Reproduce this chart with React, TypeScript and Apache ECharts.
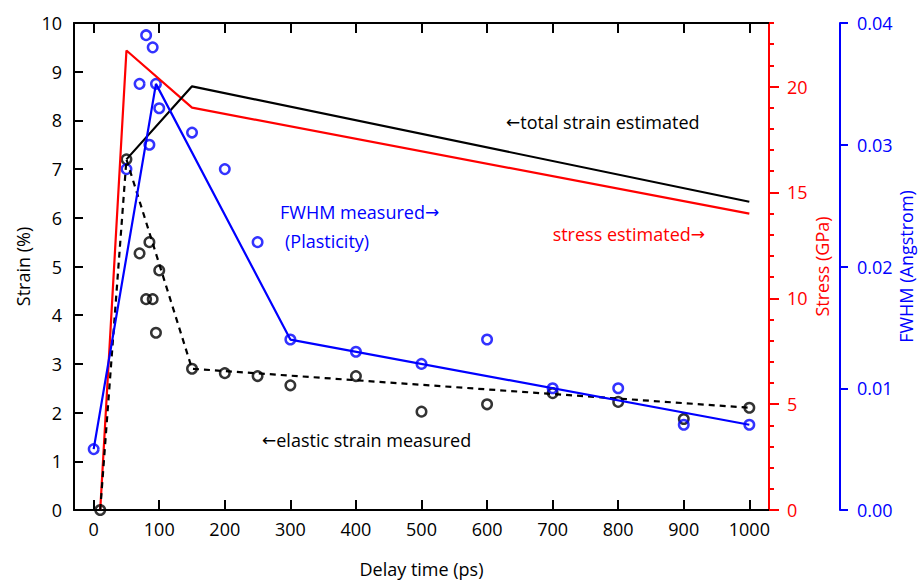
import React, { useEffect, useRef } from "react";
import * as echarts from "echarts";

// ---- data ----
const xTickValues = [0, 100, 200, 300, 400, 500, 600, 700, 800, 900, 1000];
const stressLabelValues = [0, 5, 10, 15, 20];
const stressMinorValues = [0, 1, 2, 3, 4, 5, 6, 7, 8, 9, 10, 11, 12, 13, 14, 15, 16, 17, 18, 19, 20, 21, 22, 23];

// elastic strain measured (%)
const elasticX = [10, 50, 70, 85, 100, 80, 90, 95, 150, 200, 250, 300, 400, 500, 600, 700, 800, 900, 1000];
const elasticY = [0, 7.2, 5.27, 5.5, 4.92, 4.33, 4.33, 3.64, 2.9, 2.81, 2.75, 2.56, 2.75, 2.02, 2.17, 2.4, 2.22, 1.87, 2.1];

// elastic strain fit (dashed)
const elasticFitX = [10, 50, 150, 1000];
const elasticFitY = [0, 7.2, 2.9, 2.1];

// total strain estimated (%)
const totalX = [50, 150, 1000];
const totalY = [7.2, 8.7, 6.33];

// stress estimated (GPa)
const stressX = [10, 50, 150, 1000];
const stressY = [0, 21.7, 19, 14];

// FWHM measured (Angstrom)
const fwhmX = [0, 50, 70, 80, 90, 95, 100, 85, 150, 200, 250, 300, 400, 500, 600, 700, 800, 900, 1000];
const fwhmY = [0.005, 0.028, 0.035, 0.039, 0.038, 0.035, 0.033, 0.03, 0.031, 0.028, 0.022, 0.014, 0.013, 0.012, 0.014, 0.01, 0.01, 0.007, 0.007];

// FWHM fit line
const fwhmFitX = [0, 95, 300, 1000];
const fwhmFitY = [0.005, 0.035, 0.014, 0.007];

const zip = (xs: number[], ys: number[]) => xs.map((x, i) => [x, ys[i]]);

const FONT = '"Open Sans", "Noto Sans", sans-serif';
const BLUE = "#0000ff";
const RED = "#ff0000";

export default function App() {
  const ref = useRef<HTMLDivElement>(null);
  useEffect(() => {
    if (!ref.current) return;
    const chart = echarts.init(ref.current, undefined, { renderer: "svg" });
    const label = (color: string, margin: number) => ({
      color,
      fontFamily: FONT,
      fontSize: 18,
      margin,
    });
    const arrowText = (color: string) => ({
      a: { fontFamily: '"DejaVu Sans"', fontSize: 17, fill: color },
      t: { fontFamily: FONT, fontSize: 18, fill: color },
    });
    const gridRect = { left: 74, right: 149, top: 23, bottom: 74, containLabel: false, outerBoundsMode: "none" };
    chart.setOption({
      animation: false,
      backgroundColor: "#fff",
      grid: [{ ...gridRect }, { ...gridRect }],
      xAxis: [
        {
          type: "value",
          gridIndex: 0,
          min: -30,
          max: 1030,
          position: "bottom",
          name: "Delay time (ps)",
          nameLocation: "middle",
          nameGap: 50,
          nameMoveOverlap: false,
          nameTextStyle: { color: "#000", fontFamily: FONT, fontSize: 18 },
          axisLine: { onZero: false, lineStyle: { color: "#000", width: 2 } },
          axisTick: { inside: true, length: 10, customValues: xTickValues, lineStyle: { color: "#000", width: 2 } },
          axisLabel: { ...label("#000", 10), customValues: xTickValues, formatter: (v: number) => String(v) },
          splitLine: { show: false },
        },
        {
          type: "value",
          gridIndex: 0,
          min: -30,
          max: 1030,
          position: "top",
          axisLine: { onZero: false, lineStyle: { color: "#000", width: 2 } },
          axisTick: { inside: true, length: 10, customValues: xTickValues, lineStyle: { color: "#000", width: 2 } },
          axisLabel: { show: false },
          splitLine: { show: false },
        },
        {
          type: "value",
          gridIndex: 1,
          min: -30,
          max: 1030,
          show: false,
        },
      ],
      yAxis: [
        {
          type: "value",
          gridIndex: 0,
          min: 0,
          max: 10,
          interval: 1,
          position: "left",
          name: "Strain (%)",
          nameLocation: "middle",
          nameRotate: 90,
          nameGap: 42,
          nameMoveOverlap: false,
          nameTextStyle: { color: "#000", fontFamily: FONT, fontSize: 18 },
          axisLine: { show: true, onZero: false, lineStyle: { color: "#000", width: 2 } },
          axisTick: { show: true, inside: true, length: 9, lineStyle: { color: "#000", width: 2 } },
          axisLabel: label("#000", 12),
          splitLine: { show: false },
        },
        {
          type: "value",
          gridIndex: 0,
          min: 0,
          max: 23,
          position: "right",
          name: "Stress (GPa)",
          nameLocation: "middle",
          nameRotate: 90,
          nameGap: 44,
          nameMoveOverlap: false,
          nameTextStyle: { color: RED, fontFamily: FONT, fontSize: 18 },
          axisLine: { show: true, onZero: false, lineStyle: { color: RED, width: 2 } },
          axisTick: { show: true, inside: false, length: 10, customValues: stressLabelValues, lineStyle: { color: RED, width: 2 } },
          axisLabel: { ...label(RED, 18), customValues: stressLabelValues },
          splitLine: { show: false },
        },
        {
          type: "value",
          gridIndex: 1,
          min: 0,
          max: 23,
          position: "right",
          axisLine: { show: true, onZero: false, lineStyle: { color: RED, width: 2 } },
          axisTick: { show: true, inside: false, length: 5, customValues: stressMinorValues, lineStyle: { color: RED, width: 2 } },
          axisLabel: { show: false },
          splitLine: { show: false },
        },
        {
          type: "value",
          gridIndex: 0,
          min: 0,
          max: 0.04,
          interval: 0.01,
          position: "right",
          offset: 71,
          name: "FWHM (Angstrom)",
          nameLocation: "middle",
          nameRotate: 90,
          nameGap: 57,
          nameMoveOverlap: false,
          nameTextStyle: { color: BLUE, fontFamily: FONT, fontSize: 18 },
          axisLine: { show: true, onZero: false, lineStyle: { color: BLUE, width: 2 } },
          axisTick: { show: true, inside: false, length: 8, lineStyle: { color: BLUE, width: 2 } },
          axisLabel: { ...label(BLUE, 17), formatter: (v: number) => v.toFixed(2) },
          splitLine: { show: false },
        },
      ],
      series: [
        {
          type: "line",
          name: "stress estimated",
          xAxisIndex: 0,
          yAxisIndex: 1,
          data: zip(stressX, stressY),
          symbol: "none",
          lineStyle: { color: RED, width: 2.2 },
        },
        {
          type: "line",
          name: "total strain estimated",
          xAxisIndex: 0,
          yAxisIndex: 0,
          data: zip(totalX, totalY),
          symbol: "none",
          lineStyle: { color: "#000", width: 2.2 },
        },
        {
          type: "line",
          name: "elastic fit",
          xAxisIndex: 0,
          yAxisIndex: 0,
          data: zip(elasticFitX, elasticFitY),
          symbol: "none",
          lineStyle: { color: "#000", width: 2.2, type: [6, 5] },
        },
        {
          type: "line",
          name: "FWHM fit",
          xAxisIndex: 0,
          yAxisIndex: 3,
          data: zip(fwhmFitX, fwhmFitY),
          symbol: "none",
          lineStyle: { color: BLUE, width: 2.2 },
        },
        {
          type: "scatter",
          name: "elastic strain measured",
          xAxisIndex: 0,
          yAxisIndex: 0,
          data: zip(elasticX, elasticY),
          symbol: "circle",
          symbolSize: 9.5,
          itemStyle: { color: "rgba(0,0,0,0)", borderColor: "#000", borderWidth: 2.5 },
        },
        {
          type: "scatter",
          name: "FWHM measured",
          xAxisIndex: 0,
          yAxisIndex: 3,
          data: zip(fwhmX, fwhmY),
          symbol: "circle",
          symbolSize: 9.5,
          itemStyle: { color: "rgba(0,0,0,0)", borderColor: BLUE, borderWidth: 2.5 },
        },
      ],
      graphic: [
        {
          type: "text",
          x: 506,
          y: 122,
          style: { text: "{a|←}{t|total strain estimated}", rich: arrowText("#000"), fill: "#000", verticalAlign: "middle", align: "left" },
        },
        {
          type: "text",
          x: 280,
          y: 212,
          style: { text: "{t|FWHM measured}{a|→}", rich: arrowText(BLUE), fill: BLUE, verticalAlign: "middle", align: "left" },
        },
        {
          type: "text",
          x: 285,
          y: 241,
          style: { text: "(Plasticity)", fill: BLUE, font: `18px ${FONT}`, verticalAlign: "middle", align: "left" },
        },
        {
          type: "text",
          x: 705,
          y: 234,
          style: { text: "{t|stress estimated}{a|→}", rich: arrowText(RED), fill: RED, verticalAlign: "middle", align: "right" },
        },
        {
          type: "text",
          x: 262,
          y: 440,
          style: { text: "{a|←}{t|elastic strain measured}", rich: arrowText("#000"), fill: "#000", verticalAlign: "middle", align: "left" },
        },
      ],
    });
    return () => chart.dispose();
  }, []);
  return (
    <div
      ref={ref}
      style={{ position: "fixed", left: 0, top: 0, width: 918, height: 584, background: "#fff" }}
    />
  );
}
